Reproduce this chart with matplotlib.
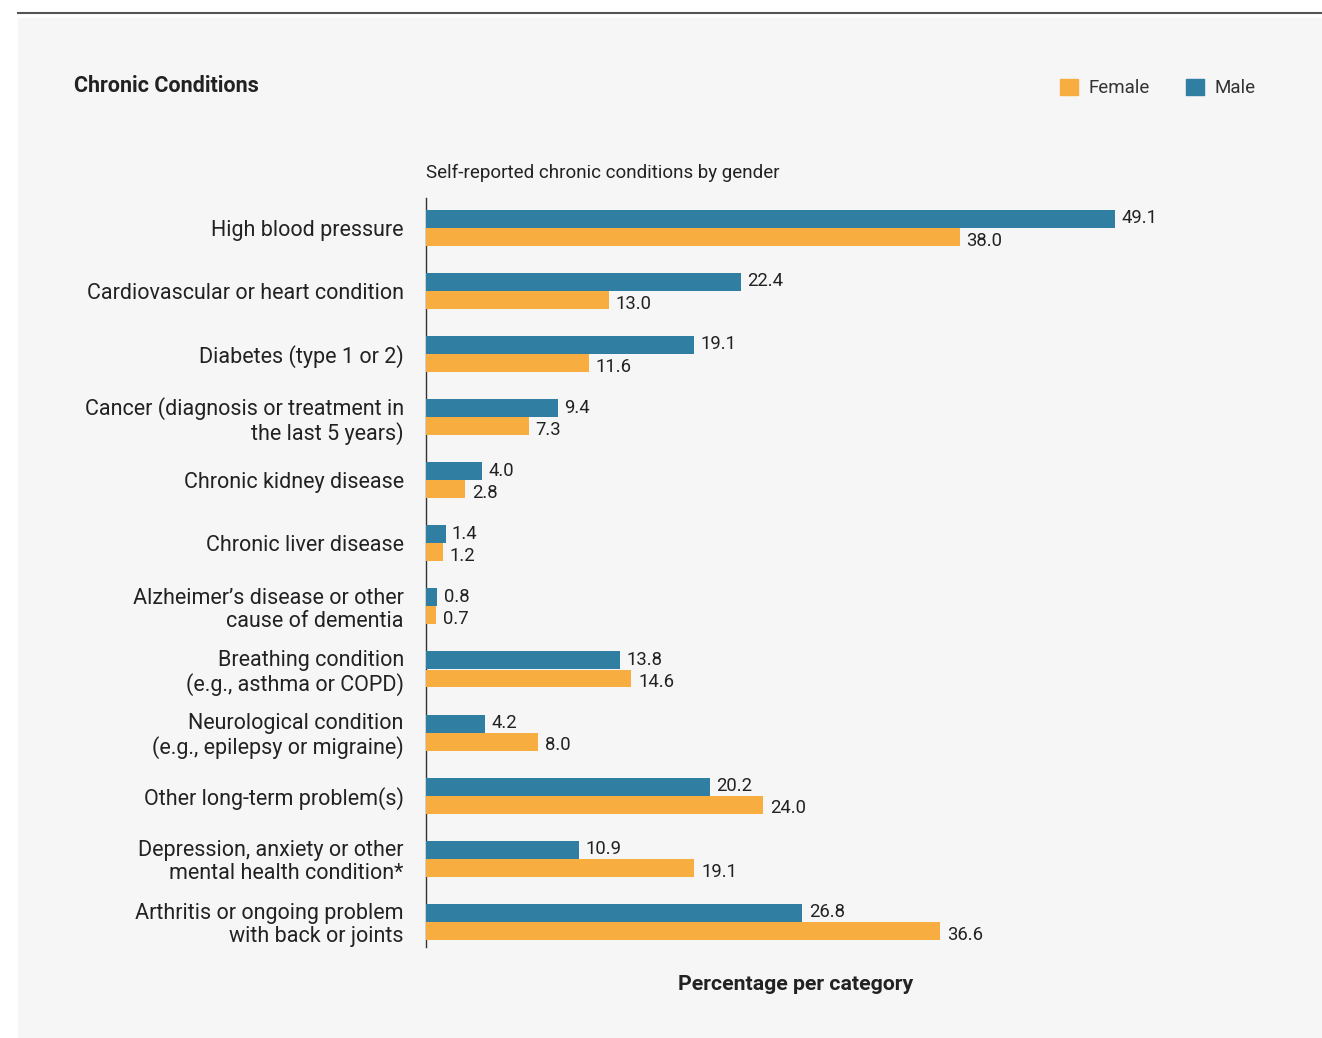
"""Chronic conditions by gender: paired horizontal bars, direct value labels."""

import matplotlib.pyplot as plt
import numpy as np
from matplotlib.patches import Patch, Rectangle

PANEL = "#f6f6f6"
INK = "#222222"
MALE = "#307fa3"
FEMALE = "#f7ad40"

CATEGORIES = [
    "High blood pressure",
    "Cardiovascular or heart condition",
    "Diabetes (type 1 or 2)",
    "Cancer (diagnosis or treatment in\nthe last 5 years)",
    "Chronic kidney disease",
    "Chronic liver disease",
    "Alzheimer\u2019s disease or other\ncause of dementia",
    "Breathing condition\n(e.g., asthma or COPD)",
    "Neurological condition\n(e.g., epilepsy or migraine)",
    "Other long-term problem(s)",
    "Depression, anxiety or other\nmental health condition*",
    "Arthritis or ongoing problem\nwith back or joints",
]
MALE_PCT = [49.1, 22.4, 19.1, 9.4, 4.0, 1.4, 0.8, 13.8, 4.2, 20.2, 10.9, 26.8]
FEMALE_PCT = [38.0, 13.0, 11.6, 7.3, 2.8, 1.2, 0.7, 14.6, 8.0, 24.0, 19.1, 36.6]

plt.rcParams.update({
    "font.family": ["Roboto", "DejaVu Sans"],
    "text.color": INK,
})

fig = plt.figure(figsize=(13.22, 10.38), dpi=100, facecolor="white")
fig.patches.append(Rectangle((18 / 1322, 0), 1, 1 - 18 / 1038,
                             transform=fig.transFigure, color=PANEL, zorder=-10))
fig.add_artist(plt.Line2D([18 / 1322, 1], [1 - 13 / 1038] * 2,
                          transform=fig.transFigure, color="#555555", lw=1.5))

ax = fig.add_axes([426 / 1322, 1 - 947 / 1038, 740 / 1322, 749 / 1038])
ax.set_facecolor(PANEL)
ax.set_zorder(2)

y = np.arange(len(CATEGORIES))
off = 0.143
h = 0.285
ax.barh(y - off, MALE_PCT, height=h, color=MALE, zorder=3)
ax.barh(y + off, FEMALE_PCT, height=h, color=FEMALE, zorder=3)
for yi, m, f in zip(y, MALE_PCT, FEMALE_PCT):
    ax.text(m + 0.45, yi - off - 0.01, f"{m:.1f}", va="center", ha="left",
            fontsize=13.3, color=INK)
    ax.text(f + 0.5, yi + off + 0.06, f"{f:.1f}", va="center", ha="left",
            fontsize=13.3, color=INK)

ax.set_xlim(0, 52.7)
ax.set_ylim(11.4, -0.475)
ax.set_xticks([])
ax.set_yticks(y)
ax.set_yticklabels(CATEGORIES, fontsize=15.5, color=INK, linespacing=1.12)
for lbl in ax.get_yticklabels():
    if "\n" not in lbl.get_text():
        lbl.set_verticalalignment("center_baseline")
ax.tick_params(axis="y", length=0, pad=16)
for spine in ("top", "right", "bottom"):
    ax.spines[spine].set_visible(False)
ax.spines["left"].set_color("#333333")
ax.spines["left"].set_linewidth(1)
ax.set_xlabel("Percentage per category", fontsize=15.3, fontweight="bold",
              color=INK, labelpad=20)

fig.text(74 / 1322, 1 - 86 / 1038, "Chronic Conditions", fontsize=15.5,
         fontweight="bold", va="center", ha="left")
fig.text(426 / 1322, 1 - 173 / 1038, "Self-reported chronic conditions by gender",
         fontsize=13.5, va="center", ha="left")

handles = [Patch(color=FEMALE), Patch(color=MALE)]
fig.legend(handles, ["Female", "Male"], loc="center",
           bbox_to_anchor=(1158 / 1322, 1 - 88 / 1038), ncol=2, frameon=False,
           fontsize=13.5, handlelength=0.95, handleheight=0.95,
           handletextpad=0.6, columnspacing=1.9, labelcolor="#333333")

fig.savefig("out.png", dpi=100, facecolor="white")
